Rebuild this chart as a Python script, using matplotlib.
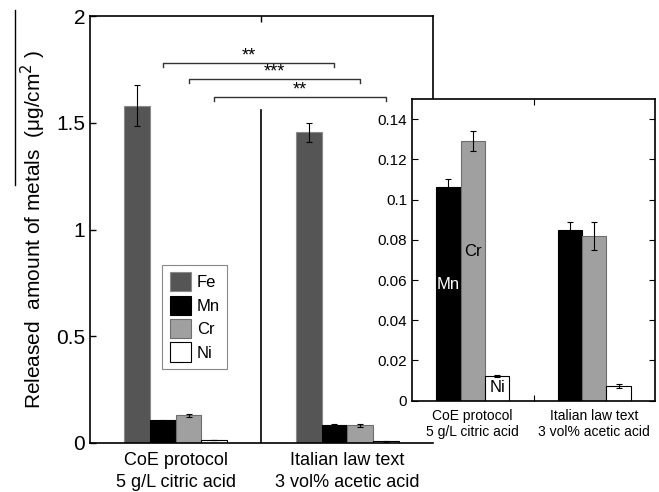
import matplotlib
matplotlib.use("Agg")
import matplotlib.pyplot as plt
import numpy as np
from matplotlib.lines import Line2D

plt.rcParams['font.family'] = ['Liberation Sans', 'DejaVu Sans']

groups = ["CoE protocol\n5 g/L citric acid", "Italian law text\n3 vol% acetic acid"]
metals = ["Fe", "Mn", "Cr", "Ni"]
fe_vals = [1.58, 1.455]
fe_err = [0.095, 0.045]
mn_vals = [0.106, 0.085]
mn_err = [0.004, 0.004]
cr_vals = [0.129, 0.082]
cr_err = [0.005, 0.007]
ni_vals = [0.0125, 0.0075]
ni_err = [0.0005, 0.001]
sig_labels = ["**", "***", "**"]
sig_heights = [1.78, 1.705, 1.62]

face = {"Fe": "#555555", "Mn": "#000000", "Cr": "#a0a0a0", "Ni": "#ffffff"}
edge = {"Fe": "#8a8a8a", "Mn": "#000000", "Cr": "#6e6e6e", "Ni": "#000000"}

fig = plt.figure(figsize=(6.59, 4.92), dpi=100)
ax = fig.add_axes([90/659, 1-443/492, 343/659, 427/492])

x = np.array([1, 2])
w = 0.15
vals = [fe_vals, mn_vals, cr_vals, ni_vals]
errs = [fe_err, mn_err, cr_err, ni_err]
offsets = [-1.5*w, -0.5*w, 0.5*w, 1.5*w]
for m, v, e, off in zip(metals, vals, errs, offsets):
    ax.bar(x + off, v, w, color=face[m], edgecolor=edge[m], linewidth=0.8, label=m)
    ax.errorbar(x + off, v, yerr=e, fmt='none', ecolor='black', elinewidth=0.8, capsize=2.5, capthick=0.8)

ax.set_xlim(0.5, 2.5)
ax.set_ylim(0, 2)
ax.set_yticks([0, 0.5, 1, 1.5, 2])
ax.set_yticklabels(["0", "0.5", "1", "1.5", "2"], fontsize=15)
ax.set_xticks([1.5])
ax.set_xticklabels([])
ax.tick_params(axis='y', direction='in', length=4, width=1)
ax.tick_params(axis='x', direction='in', length=4, width=1, top=True, bottom=False)
for s in ax.spines.values():
    s.set_linewidth(1.2)
ax.spines['right'].set_bounds(1.5, 2)
ax.plot([1.5, 1.5], [0, 1.56], color='black', lw=1.2)

for i, g in enumerate(groups):
    ax.text(x[i], -0.04, g, ha='center', va='top', fontsize=13, linespacing=1.45,
            transform=ax.transData)

# significance brackets: Mn, Cr, Ni between groups
for k, (lab, h) in enumerate(zip(sig_labels, sig_heights)):
    off = offsets[k+1]
    x1, x2 = x[0] + off, x[1] + off
    ax.plot([x1, x1, x2, x2], [h-0.02, h, h, h-0.02], color='#333333', lw=1)
    ax.text((x1+x2)/2, h-0.005, lab, ha='center', va='bottom', fontsize=13)

ax.set_ylabel("Released  amount of metals  (μg/cm$^{2}$ )", fontsize=15, labelpad=6)

leg = ax.legend(loc='upper left', bbox_to_anchor=(0.187, 0.437), fontsize=12,
                handlelength=1.25, handleheight=1.4, borderpad=0.45, labelspacing=0.25,
                handletextpad=0.35, fancybox=False, edgecolor='#888888', framealpha=1)
leg.get_frame().set_linewidth(0.8)

# artifact line at left
fig.add_artist(Line2D([15/659, 15/659], [1-10/492, 1-185/492], color='black', lw=1))

# inset
ax2 = fig.add_axes([412/659, 1-400.7/492, 243/659, 301.7/492])
ax2.set_zorder(5)
ax2.patch.set_facecolor('white')
w2 = 0.2
offs2 = [-w2, 0, w2]
for m, v, e, off in zip(metals[1:], vals[1:], errs[1:], offs2):
    ax2.bar(x + off, v, w2, color=face[m], edgecolor=edge[m], linewidth=0.8)
    ax2.errorbar(x + off, v, yerr=e, fmt='none', ecolor='black', elinewidth=0.8, capsize=2.5, capthick=0.8)
ax2.set_xlim(0.5, 2.5)
ax2.set_ylim(0, 0.15)
ax2.set_yticks([0, 0.02, 0.04, 0.06, 0.08, 0.1, 0.12, 0.14])
ax2.set_yticklabels(["0", "0.02", "0.04", "0.06", "0.08", "0.1", "0.12", "0.14"], fontsize=11)
ax2.set_xticks([1.5])
ax2.set_xticklabels([])
ax2.tick_params(axis='y', direction='in', length=4, right=True)
ax2.tick_params(axis='x', direction='in', length=4, top=True, bottom=True)
for s in ax2.spines.values():
    s.set_linewidth(1.2)
for i, g in enumerate(groups):
    ax2.text(x[i], -0.004, g, ha='center', va='top', fontsize=10, linespacing=1.2)
ax2.text(x[0] - w2, 0.058, "Mn", color='white', ha='center', va='center', fontsize=12)
ax2.text(x[0], 0.074, "Cr", color='black', ha='center', va='center', fontsize=12)
ax2.text(x[0] + w2, 0.0065, "Ni", color='black', ha='center', va='center', fontsize=12)

fig.savefig("out.png", dpi=100)
